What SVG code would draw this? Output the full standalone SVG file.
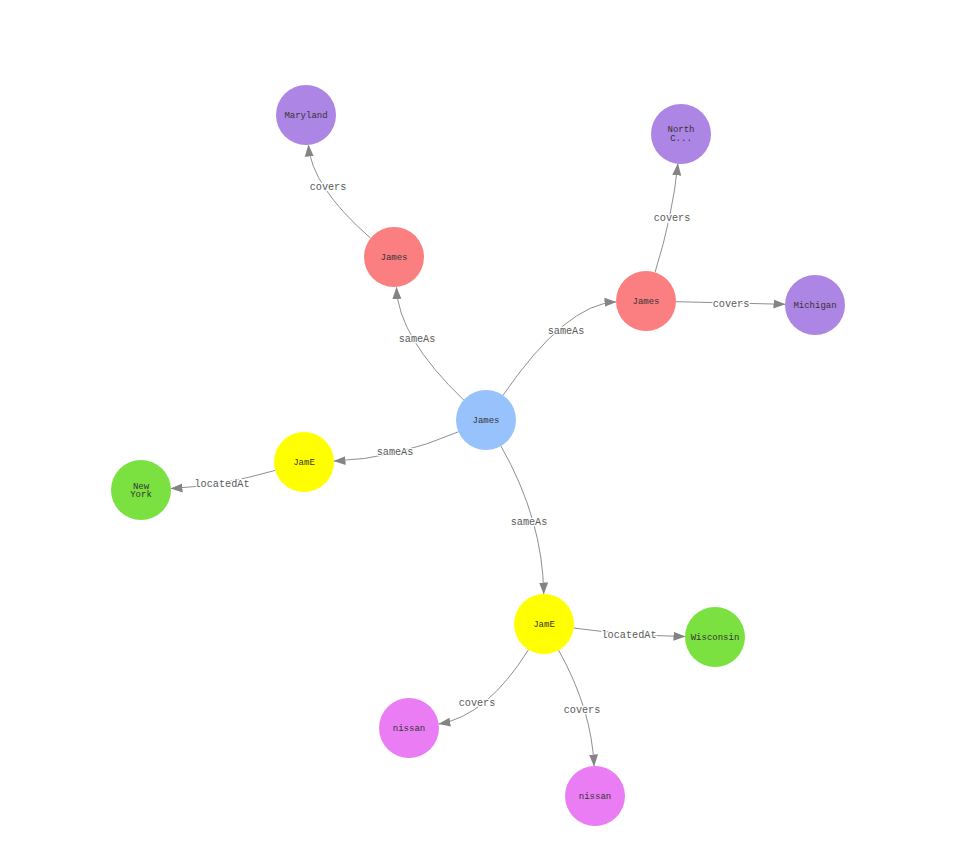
<svg xmlns="http://www.w3.org/2000/svg" width="977" height="862" viewBox="0 0 977 862">
<defs>
<marker id="arr" markerWidth="12" markerHeight="10" refX="11.5" refY="5" orient="auto" markerUnits="userSpaceOnUse">
<path d="M0,0.5 L12,5 L0,9.5 Z" fill="#848484"/>
</marker>
</defs>
<style>
.e{fill:none;stroke:#8f8f8f;stroke-width:1;marker-end:url(#arr);}
.el{font-family:"Liberation Mono","DejaVu Sans Mono",monospace;font-size:10.2px;fill:#5a5a5a;text-anchor:middle;dominant-baseline:central;stroke:#ffffff;stroke-width:2.5px;paint-order:stroke;}
.nl{font-family:"Liberation Mono","DejaVu Sans Mono",monospace;font-size:9px;fill:#343434;text-anchor:middle;dominant-baseline:central;}
.blue{fill:#97c2fc;}
.red{fill:#fb7e81;}
.purple{fill:#ad85e4;}
.yellow{fill:#ffff00;}
.green{fill:#7be141;}
.pink{fill:#eb7df4;}
</style>
<rect width="977" height="862" fill="#ffffff"/>
<g id="edges">
<path class="e" d="M463.7,400 Q398,337 396.5,287.5"/>
<path class="e" d="M503,395.3 Q566,303.5 616,301.9"/>
<path class="e" d="M458.4,431.8 Q395,459 334,461"/>
<path class="e" d="M500.9,446 Q543,520 543.7,594"/>
<path class="e" d="M370.6,238.2 Q311,186 308.5,145"/>
<path class="e" d="M655,272.4 Q672.5,216.5 677.9,163.8"/>
<path class="e" d="M676,301.7 L785,304.3"/>
<path class="e" d="M275.2,470.4 Q221.5,486 171,488.5"/>
<path class="e" d="M573.7,628 Q628.5,635.5 685,636.5"/>
<path class="e" d="M528.5,649.7 Q487,716 438.8,724"/>
<path class="e" d="M558.6,650.2 Q592,710 594,766"/>
<text class="el" x="417" y="339">sameAs</text>
<text class="el" x="566" y="331">sameAs</text>
<text class="el" x="395" y="452">sameAs</text>
<text class="el" x="529" y="522">sameAs</text>
<text class="el" x="328" y="187">covers</text>
<text class="el" x="672" y="218">covers</text>
<text class="el" x="731" y="304">covers</text>
<text class="el" x="222" y="484">locatedAt</text>
<text class="el" x="629" y="635">locatedAt</text>
<text class="el" x="477" y="703">covers</text>
<text class="el" x="582" y="710">covers</text>
</g>
<g id="n-james-center"><circle class="blue" cx="486" cy="420" r="30"/><text class="nl" x="486" y="421">James</text></g>
<g id="n-james-ul"><circle class="red" cx="394" cy="257" r="30"/><text class="nl" x="394" y="258">James</text></g>
<g id="n-maryland"><circle class="purple" cx="306" cy="115" r="30"/><text class="nl" x="306" y="116">Maryland</text></g>
<g id="n-james-right"><circle class="red" cx="646" cy="301" r="30"/><text class="nl" x="646" y="302">James</text></g>
<g id="n-northc"><circle class="purple" cx="681" cy="134" r="30"/><text class="nl" x="681" y="130">North</text><text class="nl" x="681" y="139">C...</text></g>
<g id="n-michigan"><circle class="purple" cx="815" cy="305" r="30"/><text class="nl" x="815" y="306">Michigan</text></g>
<g id="n-jame-left"><circle class="yellow" cx="304" cy="462" r="30"/><text class="nl" x="304" y="463">JamE</text></g>
<g id="n-newyork"><circle class="green" cx="141" cy="490" r="30"/><text class="nl" x="141" y="486.5">New</text><text class="nl" x="141" y="495">York</text></g>
<g id="n-jame-bottom"><circle class="yellow" cx="544" cy="624" r="30"/><text class="nl" x="544" y="625">JamE</text></g>
<g id="n-wisconsin"><circle class="green" cx="715" cy="637" r="30"/><text class="nl" x="715" y="638">Wisconsin</text></g>
<g id="n-nissan-left"><circle class="pink" cx="409" cy="728" r="30"/><text class="nl" x="409" y="729">nissan</text></g>
<g id="n-nissan-bottom"><circle class="pink" cx="595" cy="796" r="30"/><text class="nl" x="595" y="797">nissan</text></g>
</svg>
